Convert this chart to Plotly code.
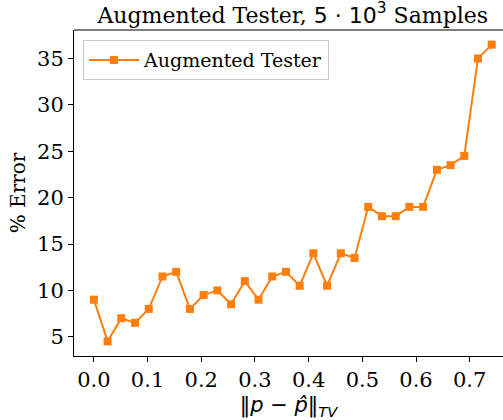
import plotly.graph_objects as go

x_vals = [0.0, 0.0256, 0.0511, 0.0767, 0.1022, 0.1278, 0.1533, 0.1789, 0.2044, 0.2300,
          0.2555, 0.2811, 0.3066, 0.3322, 0.3577, 0.3833, 0.4088, 0.4344, 0.4599, 0.4855,
          0.5110, 0.5366, 0.5621, 0.5877, 0.6132, 0.6388, 0.6643, 0.6899, 0.7154, 0.7410]
err_vals = [9, 4.5, 7, 6.5, 8, 11.5, 12, 8, 9.5, 10,
            8.5, 11, 9, 11.5, 12, 10.5, 14, 10.5, 14, 13.5,
            19, 18, 18, 19, 19, 23, 23.5, 24.5, 35, 36.5]
series_name = "Augmented Tester"
x_ticks = [0.0, 0.1, 0.2, 0.3, 0.4, 0.5, 0.6, 0.7]
y_ticks = [5, 10, 15, 20, 25, 30, 35]

color = "#ff7f0e"
serif = "DejaVu Serif"
sans = "DejaVu Sans"

fig = go.Figure()
fig.add_trace(go.Scatter(
    x=x_vals, y=err_vals, mode="lines+markers", name=series_name,
    line=dict(color=color, width=2),
    marker=dict(symbol="square", size=8, color=color),
))

fig.update_layout(
    width=503, height=420,
    margin=dict(l=74, r=0, t=30, b=64),
    plot_bgcolor="white", paper_bgcolor="white",
    font=dict(family=serif, size=20, color="black"),
    title=dict(
        text='Augmented Tester, <span style="font-family:DejaVu Sans">5 · 10<sup>3</sup></span> Samples',
        x=0.51, xref="paper", xanchor="center",
        y=1 - 15 / 420, yref="container", yanchor="middle",
        font=dict(family=serif, size=22, color="black"),
    ),
    showlegend=True,
    legend=dict(
        x=0.021, y=0.969, xanchor="left", yanchor="top",
        bgcolor="rgba(255,255,255,0.8)", bordercolor="#cccccc", borderwidth=1,
        font=dict(family=serif, size=19, color="black"),
        itemwidth=50,
    ),
    xaxis=dict(
        range=[-0.037, 0.762], tickvals=x_ticks,
        ticktext=[f"{v:.1f}" for v in x_ticks],
        showgrid=False, zeroline=False,
        showline=True, linecolor="black", linewidth=1,
        ticks="outside", ticklen=5, tickcolor="black",
        tickfont=dict(family=serif, size=21),
        title=dict(text="<i>‖p − p̂‖<sub>TV</sub></i>",
                   font=dict(family=sans, size=21), standoff=6),
    ),
    yaxis=dict(
        range=[2.925, 38.075], tickvals=y_ticks,
        showgrid=False, zeroline=False,
        showline=True, linecolor="black", linewidth=1,
        ticks="outside", ticklen=5, tickcolor="black",
        tickfont=dict(family=serif, size=21),
        title=dict(text="% Error", font=dict(family=serif, size=20), standoff=6),
    ),
    shapes=[dict(type="line", xref="paper", yref="paper", x0=0, x1=1, y0=1, y1=1,
                 line=dict(color="black", width=1))],
)

fig.write_html(
    "out.html",
    config={"displayModeBar": False},
    post_script="document.body.style.margin='0';document.body.style.overflow='hidden';",
)
